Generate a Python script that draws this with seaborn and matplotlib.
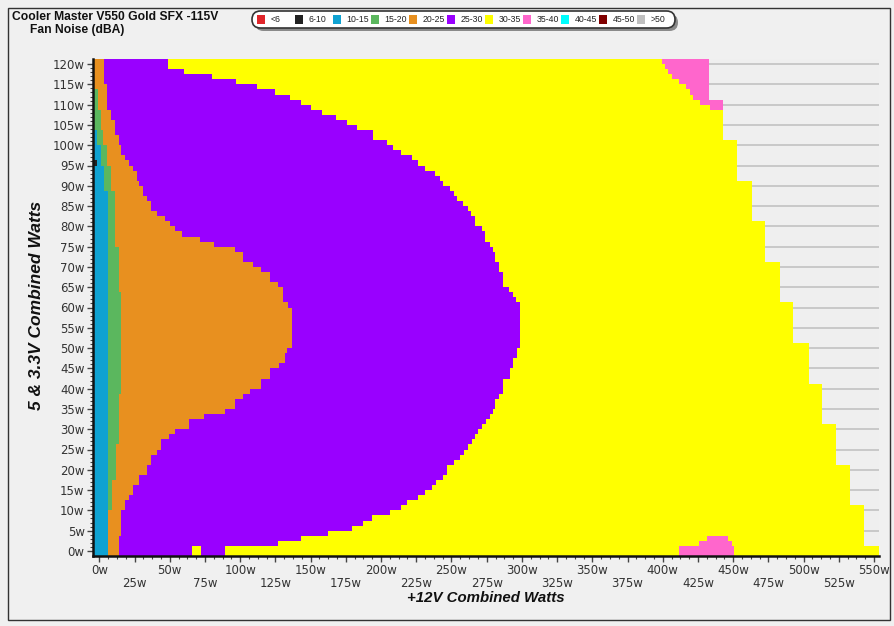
import numpy as np
import pandas as pd
import matplotlib
matplotlib.use("Agg")
import matplotlib.pyplot as plt
from matplotlib.colors import ListedColormap
from matplotlib.patches import FancyBboxPatch, Rectangle
import seaborn as sns

# ---- noise classes (dBA) and their colours ----
classes = ["<6", "6-10", "10-15", "15-20", "20-25", "25-30",
           "30-35", "35-40", "40-45", "45-50", ">50"]
class_colors = ["#e0252a", "#222222", "#0fa2d2", "#5bb75e", "#e8901f", "#9900ff",
                "#ffff00", "#ff66cc", "#00ffff", "#800000", "#c0c0c0"]

# ---- class boundaries on the +12V axis, as steps over the 5V/3.3V load ----
# each list pair: lower edge of the 5V/3.3V band (W) -> +12V watts where the class ends
blue_y = [-1.25, 88.75, 95, 100, 103.75]
blue_x = [6.2, 3.5, 1.4, -1.4, -4.5]

green_y = [-1.25, 10, 17.5, 26.25, 38.75, 63.75, 75, 88.75, 95, 100, 103.75, 108.75, 113.75]
green_x = [6.2, 9, 11.4, 13.8, 15.6, 13.8, 10.9, 8, 5.7, 2.6, 1.2, -0.9, -4.5]

orange_y = [-1.25, 3.75, 10, 12.5, 13.75, 16.25, 18.75, 21.25, 23.75, 25, 27.5, 28.75,
            30, 32.5, 33.75, 35, 37.5, 38.75, 40, 42.5, 45, 46.25, 48.75, 50, 60,
            61.25, 65, 66.25, 68.75, 70, 71.25, 73.75, 75, 76.25, 77.5, 78.75, 80,
            81.25, 82.5, 83.75, 86.25, 87.5, 90, 91.25, 93.75, 95, 96.25, 97.5, 100,
            102.5, 106.25, 108.75, 115]
orange_x = [13.8, 15.6, 18.5, 20.9, 24, 28.7, 34, 36.5, 41, 43.6, 49.3, 54,
            64.2, 74.3, 89, 96.1, 102, 106.8, 114.6, 121.7, 127.4, 131.6, 133.3, 136.3, 134,
            130.4, 127, 121, 115, 109, 102, 96, 81.4, 71.3, 59, 54, 50,
            46.4, 41, 36.5, 34, 31, 28.7, 27, 24, 20.9, 18, 15.6, 14,
            10.9, 8.5, 5.7, 3.3]

purple_y = [-1.25, 1.25, 2.5, 3.75, 5, 6.25, 7.5, 8.75, 10, 11.25, 12.5, 13.75, 15, 16.25,
            17.5, 18.75, 21.25, 22.5, 23.75, 25, 26.25, 27.5, 28.75, 30, 31.25, 32.5,
            33.75, 35, 37.5, 38.75, 42.5, 45, 47.5, 50, 61.25, 62.5, 63.75, 65, 68.75,
            71.25, 73.75, 75, 76.25, 78.75, 80, 82.5, 83.75, 85, 86.25, 87.5, 88.75, 90,
            91.25, 92.5, 93.75, 95, 96.25, 97.5, 98.75, 100, 101.25, 103.75, 105, 106.25,
            107.5, 108.75, 110, 111.25, 112.5, 113.75, 115, 116.25, 117.5, 118.75]
purple_x = [89, 126.4, 143.4, 161.9, 179.4, 187.2, 193.6, 206, 214, 218.7, 226.5, 231.2, 236, 239,
            243.8, 246.6, 251.8, 256.1, 258.9, 262, 264.4, 266.7, 269.1, 271.5, 274.5, 276.9,
            279.3, 280.9, 283.3, 286.4, 291.6, 293.5, 296.3, 298.7, 295.8, 293.5, 290.4, 286.4, 283.3,
            280.9, 279.3, 276.9, 273.8, 271.5, 266.7, 263.7, 261.3, 258.4, 254.2, 251.3, 249, 244.2,
            241.9, 238.3, 231.2, 226.5, 221.8, 214.7, 208.7, 204, 194.3, 183, 176, 168,
            158, 150, 143, 135, 125, 112, 97, 80, 60, 48.8]

# last measured +12V load in each band
end_y = [-1.25, 1.25, 11.25, 21.25, 31.25, 41.25, 51.25, 61.25, 71.25, 81.25, 91.25, 101.25, 111.25]
end_x = [553.4, 542.9, 533, 523, 512.8, 503.3, 492.7, 483.2, 472.6, 463.1, 452.9, 443, 432.7]

# 35-40 dBA corner at high load
pink_top_y = [108.75, 110, 111.25, 112.5, 113.75, 115, 116.25, 117.5, 118.75, 120]
pink_top_x = [433.5, 426.5, 421.3, 419.4, 416.5, 411.5, 406.4, 404, 401.6, 399.3]

# isolated spots: x0, x1, y0, y1, class index
spot_x0 = [-4.5, 65.8, 411.5, 426.0, 431.6]
spot_x1 = [-1.4, 72.4, 450.6, 449.0, 445.8]
spot_y0 = [95.0, -1.25, -1.25, 1.25, 2.5]
spot_y1 = [96.25, 1.25, 1.25, 2.5, 3.75]
spot_cls = [1, 6, 7, 7, 7]

y_ticks = list(range(0, 121, 5))
x_ticks = list(range(0, 551, 25))

# ---- raster the map ----
X_STEP, Y_STEP = 0.5, 1.25
X_LO, X_HI = -4.5, 553.5
Y_LO, Y_HI = -1.25, 121.25
xc = np.arange(X_LO + X_STEP / 2, X_HI, X_STEP)
yc = np.arange(Y_LO + Y_STEP / 2, Y_HI, Y_STEP)


def step(ys, xs, y):
    i = int(np.searchsorted(ys, y, side="right")) - 1
    return xs[max(i, 0)]


grid = np.full((len(yc), len(xc)), np.nan)
for j, y in enumerate(yc):
    row = np.full(len(xc), 6.0)
    row[xc < step(purple_y, purple_x, y)] = 5
    row[xc < step(orange_y, orange_x, y)] = 4
    row[xc < step(green_y, green_x, y)] = 3
    row[xc < step(blue_y, blue_x, y)] = 2
    if y >= pink_top_y[0]:
        row[xc >= step(pink_top_y, pink_top_x, y)] = 7
    row[xc > step(end_y, end_x, y)] = np.nan
    grid[j] = row

for x0, x1, y0, y1, c in zip(spot_x0, spot_x1, spot_y0, spot_y1, spot_cls):
    rr = (yc >= y0) & (yc < y1)
    cc = (xc >= x0) & (xc < x1)
    grid[np.ix_(rr, cc)] = c

df = pd.DataFrame(grid[::-1])

# ---- figure ----
sns.set_style("white")
plt.rcParams["font.family"] = ["DejaVu Sans"]

W, H = 894, 626
fig = plt.figure(figsize=(W / 100, H / 100), dpi=100)
fig.patch.set_facecolor("#f0f0f0")

ax = fig.add_axes([93 / W, 1 - 556 / H, (879 - 93) / W, (556 - 59) / H])
ax.set_facecolor("#efefef")

sns.heatmap(df, ax=ax, cmap=ListedColormap(class_colors), vmin=-0.5, vmax=10.5,
            cbar=False, xticklabels=False, yticklabels=False)


def xi(w):
    return (w - X_LO) / X_STEP


def yi(w):
    return (Y_HI - w) / Y_STEP


for v in y_ticks:
    ax.axhline(yi(v), color="#c6c6c6", lw=1.3, zorder=0)

ax.set_yticks([yi(v) for v in y_ticks])
ax.set_yticklabels([f"{v}w" for v in y_ticks], rotation=0)
ax.set_xticks([xi(v) for v in x_ticks])
ax.set_xticklabels([f"{v}w" if i % 2 == 0 else f"\n{v}w" for i, v in enumerate(x_ticks)],
                   rotation=0)
for t in ax.get_xticklabels():
    t.set_linespacing(1.05)
ax.set_xticks([xi(v) for v in np.arange(0, 551, 6.25)], minor=True)
ax.set_yticks([yi(v) for v in range(0, 121)], minor=True)
ax.tick_params(axis="both", which="major", direction="out", length=4, width=1,
               color="#444444", labelsize=8.5, labelcolor="#333333", pad=2,
               left=True, bottom=True)
ax.tick_params(axis="both", which="minor", direction="out", length=2.5, width=0.8,
               color="#444444", left=True, bottom=True)
ax.tick_params(axis="x", which="major", pad=1.5)
for s in ["left", "bottom"]:
    ax.spines[s].set_visible(True)
    ax.spines[s].set_color("#111111")
    ax.spines[s].set_linewidth(1.8)
for s in ["top", "right"]:
    ax.spines[s].set_visible(False)
ax.set_xlabel("")
ax.set_ylabel("")

# ---- overlay in pixel units for titles, legend, frame ----
ov = fig.add_axes([0, 0, 1, 1], facecolor="none")
ov.set_xlim(0, W)
ov.set_ylim(H, 0)
ov.axis("off")

ov.add_patch(Rectangle((8, 8), 882, 612, fill=False, edgecolor="#333333", lw=1))

sans = ["Liberation Sans", "DejaVu Sans"]
ov.text(12, 17, "Cooler Master V550 Gold SFX -115V", family=sans, fontsize=8.75,
        fontweight="bold", va="center", ha="left", color="#111111")
ov.text(30, 30.5, "Fan Noise (dBA)", family=sans, fontsize=8.75,
        fontweight="bold", va="center", ha="left", color="#111111")
ov.text(486, 598, "+12V Combined Watts", family=sans, fontsize=10.8,
        fontweight="bold", fontstyle="italic", va="center", ha="center", color="#111111")
ov.text(37, 305, "5 & 3.3V Combined Watts", family=sans, fontsize=12.5,
        fontweight="bold", fontstyle="italic", va="center", ha="center",
        rotation=90, color="#111111")

# legend
ov.add_patch(FancyBboxPatch((255, 14), 423, 17, boxstyle="round,pad=0,rounding_size=8.5",
                            facecolor="#8a8a8a", edgecolor="none"))
ov.add_patch(FancyBboxPatch((252, 11), 423, 17, boxstyle="round,pad=0,rounding_size=8.5",
                            facecolor="white", edgecolor="#333333", lw=1.2))
for i, (lab, col) in enumerate(zip(classes, class_colors)):
    x0 = 256.7 + 38.0 * i
    ov.add_patch(Rectangle((x0, 15.3), 8.4, 8.7, facecolor=col, edgecolor="none"))
    ov.text(x0 + 14, 19.8, lab, family=sans, fontsize=6.3, va="center", ha="left",
            color="#222222")

fig.savefig("out.png", dpi=100, facecolor=fig.get_facecolor())
